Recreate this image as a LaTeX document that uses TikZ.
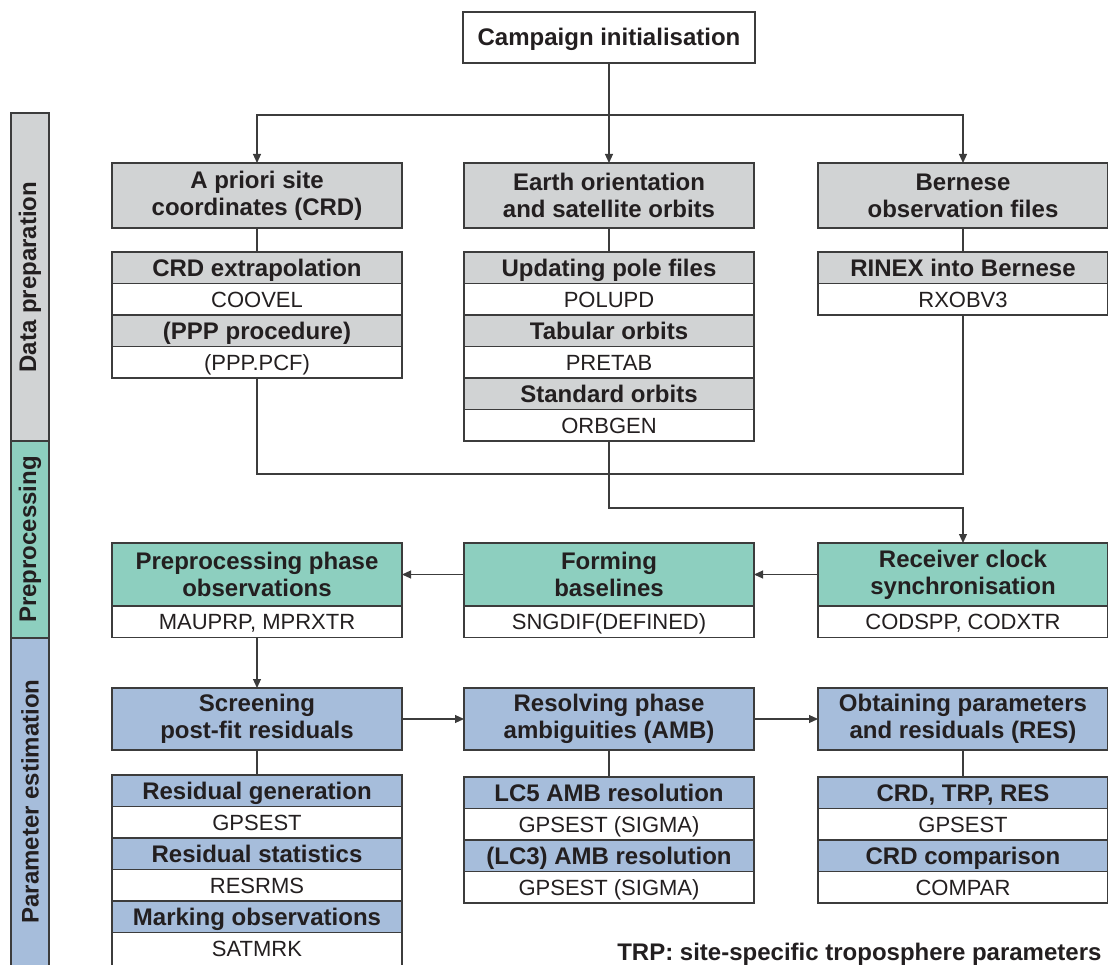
\documentclass[tikz,border=0pt]{standalone}
\usepackage{fontspec}
\setmainfont{Liberation Sans}
\usepackage{xcolor}
\usepackage{tikz}
\usetikzlibrary{positioning,arrows.meta,calc}

\definecolor{linec}{HTML}{3C3C3C}
\definecolor{txtc}{HTML}{231F20}
\definecolor{grayc}{HTML}{D1D3D4}
\definecolor{tealc}{HTML}{8DCFBF}
\definecolor{bluec}{HTML}{A6BDDB}

\tikzset{
  base/.style={draw=linec, line width=1.1pt, outer sep=0pt, inner sep=0pt, minimum width=290pt, align=center, text=txtc},
  hdr/.style={base, fill=#1, minimum height=63pt, font=\fontsize{24}{27}\selectfont\bfseries},
  tit/.style={base, fill=#1, minimum height=31.5pt, text height=17pt, text depth=0pt, font=\fontsize{24}{27}\selectfont\bfseries},
  prog/.style={base, fill=white, minimum height=31.5pt, text height=16pt, text depth=0pt, font=\fontsize{22}{26}\selectfont},
  band/.style={draw=linec, line width=1.1pt, fill=#1},
  bandtxt/.style={rotate=90, text=txtc, font=\fontsize{24}{27}\selectfont\bfseries},
  lnk/.style={draw=linec, line width=1.1pt},
  arr/.style={lnk, -{Triangle[length=9pt,width=8pt]}}
}

\begin{document}
\begin{tikzpicture}[x=1pt,y=-1pt]
\useasboundingbox (0,0) rectangle (1108,965);

% side bands
\draw[band=grayc] (11,113) rectangle (49,441);
\draw[band=tealc] (11,441) rectangle (49,638);
\draw[band=bluec] (11,638) rectangle (49,975);
\node[bandtxt] (bdp) at (30,277) {Data preparation};
\node[bandtxt] (bpp) at (30,539.5) {Preprocessing};
\node[bandtxt] (bpe) at (30,801.5) {Parameter estimation};

% data preparation
\node[hdr=white, minimum width=292pt, minimum height=51pt, text height=17pt, text depth=0pt] (camp) at (609,37.5) {Campaign initialisation};

\node[hdr=grayc, minimum height=65pt] (apri) at (257,195.5) {A priori site\\coordinates (CRD)};
\node[hdr=grayc, minimum height=65pt] (eop) at (609,195.5) {Earth orientation\\and satellite orbits};
\node[hdr=grayc, minimum height=65pt] (bof) at (963,195.5) {Bernese\\observation files};

\node[tit=grayc, anchor=north] (crdex) at (257,252) {CRD extrapolation};
\node[prog, below=0pt of crdex] (coovel) {COOVEL};
\node[tit=grayc, below=0pt of coovel] (ppp) {(PPP procedure)};
\node[prog, below=0pt of ppp] (pcf) {(PPP.PCF)};

\node[tit=grayc, anchor=north] (upd) at (609,252) {Updating pole files};
\node[prog, below=0pt of upd] (polupd) {POLUPD};
\node[tit=grayc, below=0pt of polupd] (tab) {Tabular orbits};
\node[prog, below=0pt of tab] (pretab) {PRETAB};
\node[tit=grayc, below=0pt of pretab] (std) {Standard orbits};
\node[prog, below=0pt of std] (orbgen) {ORBGEN};

\node[tit=grayc, anchor=north] (rinex) at (963,252) {RINEX into Bernese};
\node[prog, below=0pt of rinex] (rxo) {RXOBV3};

% preprocessing
\node[hdr=tealc] (ppo) at (257,574.5) {Preprocessing phase\\observations};
\node[prog, below=0pt of ppo] (mau) {MAUPRP, MPRXTR};
\node[hdr=tealc] (form) at (609,574.5) {Forming\\baselines};
\node[prog, below=0pt of form] (sng) {SNGDIF(DEFINED)};
\node[hdr=tealc] (rcv) at (963,574.5) {Receiver clock\\synchronisation};
\node[prog, below=0pt of rcv] (cod) {CODSPP, CODXTR};

% parameter estimation
\node[hdr=bluec, minimum height=62pt] (scr) at (257,719) {Screening\\post-fit residuals};
\node[hdr=bluec, minimum height=62pt] (amb) at (609,719) {Resolving phase\\ambiguities (AMB)};
\node[hdr=bluec, minimum height=62pt] (obt) at (963,719) {Obtaining parameters\\and residuals (RES)};

\node[tit=bluec, anchor=north] (resgen) at (257,775) {Residual generation};
\node[prog, below=0pt of resgen] (gps1) {GPSEST};
\node[tit=bluec, below=0pt of gps1] (resst) {Residual statistics};
\node[prog, below=0pt of resst] (resrms) {RESRMS};
\node[tit=bluec, below=0pt of resrms] (mark) {Marking observations};
\node[prog, below=0pt of mark, anchor=north west, minimum height=40pt, text height=16pt, text depth=8pt] (satmrk) at (mark.south west) {SATMRK};

\node[tit=bluec, anchor=north] (lc5) at (609,777) {LC5 AMB resolution};
\node[prog, below=0pt of lc5] (gps2) {GPSEST (SIGMA)};
\node[tit=bluec, below=0pt of gps2] (lc3) {(LC3) AMB resolution};
\node[prog, below=0pt of lc3] (gps3) {GPSEST (SIGMA)};

\node[tit=bluec, anchor=north] (crdtrp) at (963,777) {CRD, TRP, RES};
\node[prog, below=0pt of crdtrp] (gps4) {GPSEST};
\node[tit=bluec, below=0pt of gps4] (crdcmp) {CRD comparison};
\node[prog, below=0pt of crdcmp] (compar) {COMPAR};

\node[anchor=base east, text=txtc, font=\fontsize{24}{27}\selectfont\bfseries] (note) at (1105,960) {TRP: site-specific troposphere parameters};

% connectors
\coordinate (split) at (609,115);
\coordinate (j1) at (257,474);
\coordinate (j2) at (609,508);
\draw[arr] (camp) -- (eop);
\draw[arr] (split) -| (apri);
\draw[arr] (split) -| (bof);
\draw[lnk] (apri) -- (crdex);
\draw[lnk] (eop) -- (upd);
\draw[lnk] (bof) -- (rinex);
\draw[lnk] (pcf) -- (j1) -| (rxo);
\draw[arr] (orbgen) -- (j2) -| (rcv);
\draw[arr] (rcv) -- (form);
\draw[arr] (form) -- (ppo);
\draw[arr] (mau) -- (scr);
\draw[arr] (scr) -- (amb);
\draw[arr] (amb) -- (obt);
\draw[lnk] (scr) -- (resgen);
\draw[lnk] (amb) -- (lc5);
\draw[lnk] (obt) -- (crdtrp);
\end{tikzpicture}
\end{document}
